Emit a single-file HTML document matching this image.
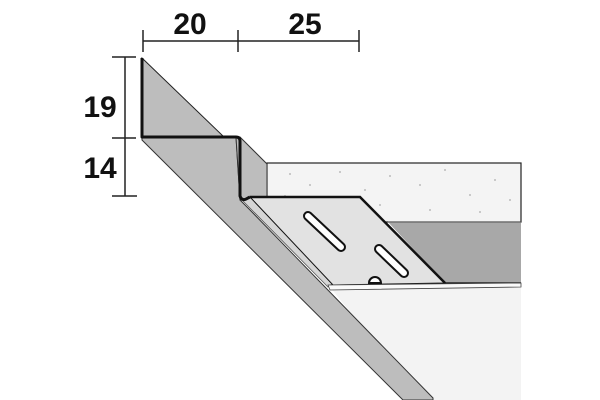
<!DOCTYPE html>
<html><head><style>html,body{margin:0;padding:0;background:#fff}svg{display:block}</style></head>
<body>
<svg width="600" height="400" viewBox="0 0 600 400" xmlns="http://www.w3.org/2000/svg">
<rect width="600" height="400" fill="#fff"/>
<polygon points="330,287 521,285 521,400 420,400" fill="#f3f3f3"/>
<rect x="267" y="163" width="254" height="59" fill="#f4f4f4" stroke="#222" stroke-width="1.2"/>
<g fill="#bbb">
<circle cx="290" cy="174" r="1"/><circle cx="310" cy="185" r="1"/><circle cx="340" cy="172" r="1"/><circle cx="365" cy="190" r="1"/><circle cx="390" cy="176" r="1"/><circle cx="420" cy="185" r="1"/><circle cx="445" cy="170" r="1"/><circle cx="470" cy="195" r="1"/><circle cx="495" cy="180" r="1"/><circle cx="380" cy="205" r="1"/><circle cx="430" cy="210" r="1"/><circle cx="480" cy="212" r="1"/><circle cx="510" cy="200" r="1"/><circle cx="285" cy="196" r="1"/>
</g>
<polygon points="388,222 521,222 521,283 445,283" fill="#a8a8a8"/>
<line x1="388" y1="222" x2="521" y2="222" stroke="#555" stroke-width="1"/>
<line x1="445" y1="283" x2="521" y2="283" stroke="#222" stroke-width="1.5"/>
<polygon points="142,137 236,137 240,200 250,210 433,398 433,400 403,400 142,140" fill="#bdbdbd" stroke="#333" stroke-width="1"/>
<polygon points="142,58 224,137 142,137" fill="#bdbdbd" stroke="#222" stroke-width="1"/>
<polygon points="236,137 240,137 267,164 267,197 240,200" fill="#bdbdbd" stroke="#333" stroke-width="1"/>
<!-- light strip between band and flange -->
<polygon points="243,201 250,197 333,283 328,287" fill="#d6d6d6" stroke="#555" stroke-width="0.8"/>
<polygon points="250,197 360,197 445,283 333,285" fill="#e2e2e2" stroke="#111" stroke-width="1"/>
<polyline points="250,197 360,197 445,283" fill="none" stroke="#111" stroke-width="2.5"/>
<polygon points="328,285 521,283 521,287 330,290" fill="#fafafa" stroke="#444" stroke-width="0.8"/>
<line x1="308" y1="216" x2="341" y2="247" stroke="#111" stroke-width="10" stroke-linecap="round"/>
<line x1="308" y1="216" x2="341" y2="247" stroke="#fff" stroke-width="6" stroke-linecap="round"/>
<line x1="379" y1="249" x2="404" y2="273" stroke="#111" stroke-width="10" stroke-linecap="round"/>
<line x1="379" y1="249" x2="404" y2="273" stroke="#fff" stroke-width="6" stroke-linecap="round"/>
<path d="M369,283 a6,6 0 0 1 12,0 z" fill="#fff" stroke="#111" stroke-width="2"/>
<path d="M142,58 L142,137 L236,137 Q240,137 240,141 L240,196 Q242,202 248,198 L250,197" fill="none" stroke="#111" stroke-width="3" stroke-linejoin="round"/>
<g stroke="#222" stroke-width="1.5">
<line x1="143" y1="41" x2="359" y2="41"/>
<line x1="143" y1="30" x2="143" y2="52"/>
<line x1="238" y1="30" x2="238" y2="52"/>
<line x1="359" y1="30" x2="359" y2="52"/>
<line x1="125" y1="57" x2="125" y2="196"/>
<line x1="112" y1="57" x2="136" y2="57"/>
<line x1="112" y1="138" x2="136" y2="138"/>
<line x1="112" y1="196" x2="137" y2="196"/>
</g>
<g font-family="Liberation Sans, sans-serif" font-weight="bold" font-size="30" fill="#111" text-anchor="middle">
<text x="190" y="34">20</text>
<text x="305" y="34">25</text>
<text x="100" y="117">19</text>
<text x="100" y="178">14</text>
</g>
</svg>
</body></html>
